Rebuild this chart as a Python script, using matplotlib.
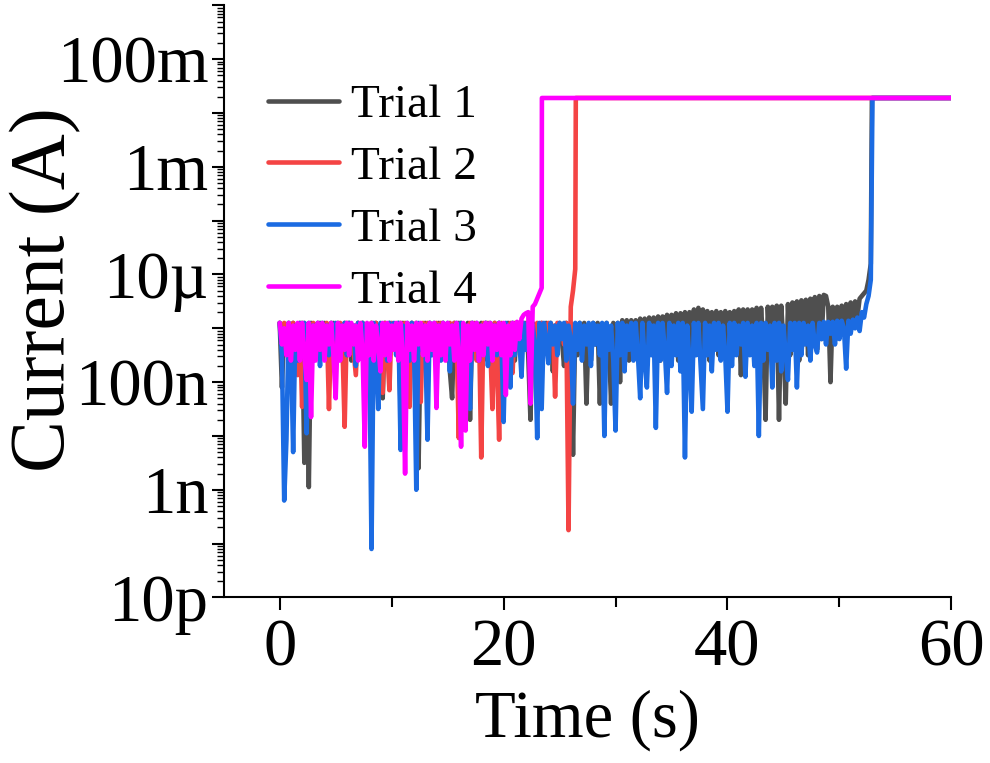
import numpy as np
import matplotlib
matplotlib.use('Agg')
import matplotlib.pyplot as plt
from matplotlib.ticker import LogLocator, FixedLocator, FuncFormatter, NullFormatter

plt.rcParams['font.family'] = ['Liberation Serif', 'DejaVu Serif']

# ---------------- data (log10 of current in A, sampled every dt seconds) ----------------
series_labels = ['Trial 1', 'Trial 2', 'Trial 3', 'Trial 4']
series_colors = ['#4f4f4f', '#f44444', '#1b6be2', '#ff00ff']
sample_dt = 0.2

trial1_log = [
    -5.9, -7.1, -5.95, -6.3, -5.9, -6.6, -5.9, -6.2, -5.95, -6.4,
    -5.9, -8.5, -6.0, -8.95, -5.9, -6.3, -5.95, -6.5, -5.9, -6.2,
    -5.9, -6.4, -5.95, -6.7, -5.9, -6.2, -5.9, -6.5, -6.0, -5.9,
    -6.3, -5.9, -6.6, -5.95, -6.2, -5.9, -6.4, -5.9, -6.8, -5.95,
    -6.2, -5.9, -6.5, -5.9, -6.3, -5.95, -7.3, -5.9, -6.4, -5.9,
    -6.2, -5.95, -6.3, -5.9, -7.5, -5.9, -6.5, -5.95, -6.2, -5.9,
    -6.4, -5.9, -8.6, -5.95, -6.3, -5.9, -6.6, -5.9, -6.2, -5.95,
    -6.5, -5.9, -6.2, -5.9, -6.4, -5.95, -6.8, -7.3, -5.9, -6.3,
    -5.9, -6.5, -5.95, -6.2, -5.9, -7.7, -5.9, -6.4, -5.95, -6.3,
    -5.9, -6.6, -5.9, -6.2, -5.95, -6.5, -5.9, -6.3, -5.9, -6.7,
    -5.95, -6.2, -5.9, -6.4, -5.9, -6.6, -5.95, -6.3, -5.9, -6.2,
    -5.9, -6.5, -7.7, -5.9, -6.3, -5.95, -6.6, -5.9, -6.2, -5.9,
    -6.4, -5.9, -6.8, -5.95, -6.3, -5.9, -6.2, -6.7, -5.9, -6.4,
    -5.9, -8.35, -5.95, -6.5, -5.9, -6.3, -5.9, -7.4, -5.95, -6.6,
    -5.9, -6.3, -5.9, -7.4, -5.95, -6.5, -5.9, -6.2, -7.4, -5.9,
    -6.5, -5.9, -7.0, -5.85, -6.4, -5.85, -6.6, -5.85, -6.3, -5.85,
    -6.5, -5.82, -6.2, -5.82, -6.7, -5.8, -6.4, -5.8, -6.3, -5.78,
    -6.6, -5.78, -6.3, -5.75, -6.5, -5.75, -6.2, -5.72, -6.6, -5.72,
    -6.3, -5.7, -6.96, -5.7, -6.4, -5.65, -6.2, -5.62, -6.5, -5.65,
    -6.3, -5.68, -6.6, -5.7, -6.2, -5.68, -6.5, -5.7, -6.3, -5.68,
    -6.5, -5.7, -6.2, -5.68, -6.4, -5.65, -6.87, -5.65, -6.3, -5.65,
    -6.4, -5.65, -6.2, -5.62, -6.6, -5.62, -6.3, -7.7, -5.6, -6.4,
    -5.6, -6.2, -5.58, -7.7, -5.58, -6.3, -7.4, -5.55, -6.5, -5.52,
    -6.2, -5.5, -6.6, -5.48, -6.3, -5.47, -6.5, -5.45, -6.2, -5.42,
    -6.4, -5.4, -6.2, -5.38, -5.4, -5.6, -7.0, -5.6, -6.2, -5.6,
    -5.95, -5.58, -6.1, -5.55, -5.9, -5.52, -5.95, -5.5, -5.8, -5.45,
    -5.4, -5.35, -5.3, -5.1, -4.8,
]
trial1_tail_t = [52.9, 60.0]
trial1_tail_I = [0.019, 0.019]

trial2_log = [
    -5.9, -6.2, -5.9, -6.4, -5.95, -6.3, -5.9, -6.2, -6.87, -5.9,
    -7.46, -5.9, -6.3, -5.95, -6.2, -5.9, -6.5, -5.9, -6.3, -5.95,
    -6.2, -5.9, -7.5, -5.9, -6.4, -5.95, -6.2, -5.9, -6.3, -7.83,
    -5.9, -6.2, -5.95, -6.4, -6.87, -5.9, -6.3, -5.9, -6.2, -5.95,
    -6.5, -5.9, -6.2, -5.9, -6.3, -5.95, -7.2, -5.9, -6.4, -7.15,
    -5.9, -6.3, -5.95, -6.2, -5.9, -6.5, -5.9, -6.2, -7.46, -5.9,
    -6.3, -5.95, -6.2, -7.37, -5.9, -6.4, -5.9, -6.2, -5.95, -6.5,
    -5.9, -6.3, -5.9, -6.2, -5.95, -6.6, -5.9, -6.3, -5.9, -6.2,
    -8.04, -5.9, -6.4, -5.95, -6.8, -5.9, -6.3, -5.9, -6.6, -5.95,
    -8.4, -5.9, -6.5, -5.9, -6.3, -7.5, -5.9, -6.6, -8.07, -5.9,
    -6.3, -5.95, -6.5, -5.9, -6.83, -5.9, -6.2, -5.95, -6.4, -5.9,
    -6.2, -5.9, -6.5, -5.95, -6.2, -5.9, -6.4, -5.9, -6.2, -6.35,
    -5.9, -6.3, -5.95, -7.27, -5.9, -6.2, -5.95, -6.3, -5.9, -9.75,
    -5.6, -5.3, -4.9,
]
trial2_tail_t = [26.45, 60.0]
trial2_tail_I = [0.019, 0.019]

trial3_log = [
    -5.9, -6.5, -9.2, -8.07, -5.9, -6.3, -8.3, -5.95, -6.6, -5.9,
    -6.2, -5.9, -7.95, -5.9, -6.5, -5.95, -6.3, -5.9, -6.7, -5.9,
    -6.3, -5.95, -6.5, -5.9, -6.2, -5.9, -6.6, -5.95, -6.3, -5.9,
    -6.5, -5.9, -6.2, -5.95, -6.7, -5.9, -6.3, -5.9, -6.5, -5.95,
    -6.2, -10.1, -5.9, -6.4, -7.5, -5.9, -6.3, -5.95, -6.6, -5.9,
    -6.2, -5.9, -6.5, -5.9, -8.26, -5.95, -6.3, -5.9, -6.6, -5.9,
    -6.3, -9.0, -5.9, -6.4, -5.95, -6.2, -8.07, -5.9, -6.5, -5.9,
    -6.3, -5.95, -6.6, -5.9, -6.2, -5.9, -6.8, -5.95, -6.3, -5.9,
    -6.5, -5.9, -6.2, -5.95, -6.4, -7.5, -5.9, -6.3, -5.9, -6.6,
    -5.95, -6.2, -5.9, -6.7, -5.9, -6.3, -5.95, -6.5, -5.9, -6.2,
    -7.74, -5.9, -6.3, -7.1, -5.9, -6.5, -5.95, -6.2, -6.9, -5.9,
    -6.4, -5.9, -6.6, -5.95, -6.3, -8.04, -5.9, -7.5, -5.9, -6.2,
    -6.65, -5.9, -6.3, -5.95, -6.5, -5.9, -6.2, -5.9, -6.6, -5.95,
    -6.2, -7.4, -5.9, -6.4, -5.9, -6.6, -5.95, -6.3, -5.9, -6.7,
    -5.9, -6.3, -5.95, -6.5, -5.9, -8.0, -5.9, -6.4, -5.95, -6.6,
    -7.9, -5.9, -6.5, -5.9, -6.8, -5.95, -6.4, -5.9, -6.6, -5.9,
    -6.5, -7.3, -5.9, -6.6, -7.1, -5.9, -6.5, -5.95, -7.85, -5.9,
    -6.6, -5.9, -6.4, -7.2, -5.9, -6.7, -5.95, -6.5, -5.9, -6.8,
    -5.9, -8.4, -5.95, -6.6, -7.55, -5.9, -6.5, -5.9, -6.7, -7.5,
    -5.9, -6.5, -5.95, -6.8, -5.9, -6.4, -5.9, -6.6, -5.95, -6.5,
    -7.55, -5.9, -6.7, -5.9, -6.5, -5.95, -6.3, -5.9, -6.9, -5.9,
    -6.5, -5.95, -6.7, -5.9, -8.0, -5.9, -6.6, -5.9, -6.4, -5.95,
    -7.1, -5.9, -6.6, -5.9, -6.8, -5.95, -6.5, -6.96, -5.9, -6.4,
    -5.9, -7.1, -5.9, -6.5, -5.9, -6.3, -5.95, -6.6, -5.9, -6.3,
    -6.45, -5.9, -6.2, -5.88, -6.3, -5.88, -6.1, -5.88, -6.3, -5.86,
    -6.2, -5.86, -6.0, -6.75, -5.86, -6.1, -5.84, -6.0, -5.8, -6.05,
    -5.7, -5.8, -5.55, -5.4, -5.1,
]
trial3_tail_t = [52.95, 60.0]
trial3_tail_I = [0.019, 0.019]

trial4_log = [
    -5.9, -6.3, -6.0, -6.5, -5.9, -6.6, -5.95, -6.4, -5.9, -6.6,
    -5.9, -6.5, -6.96, -5.9, -7.65, -5.95, -6.6, -5.9, -6.4, -5.9,
    -6.6, -5.95, -6.3, -5.9, -6.5, -7.3, -5.9, -6.6, -5.95, -6.4,
    -5.9, -6.5, -5.9, -6.3, -5.95, -6.6, -5.9, -6.4, -8.2, -5.9,
    -6.5, -5.9, -6.6, -5.95, -6.3, -6.8, -5.9, -6.5, -5.9, -6.6,
    -5.95, -6.4, -5.9, -6.6, -5.9, -6.5, -8.7, -5.9, -6.4, -5.95,
    -6.6, -5.9, -6.3, -5.9, -6.5, -5.95, -6.6, -5.9, -6.4, -5.9,
    -7.48, -5.95, -6.5, -5.9, -6.6, -5.9, -6.3, -5.95, -6.6, -5.9,
    -6.5, -8.2, -5.9, -7.9, -5.95, -6.6, -5.9, -6.4, -5.9, -6.6,
    -5.95, -6.5, -5.9, -6.3, -5.9, -6.6, -5.95, -6.4, -5.9, -6.5,
    -5.9, -7.24, -5.95, -6.5, -5.9, -6.4, -5.88, -6.2, -5.82, -5.75,
    -5.72, -5.7, -7.4, -5.6, -5.55, -5.45, -5.35, -5.25,
]
trial4_tail_t = [23.42, 60.0]
trial4_tail_I = [0.019, 0.019]

y_tick_values = [1e-11, 1e-9, 1e-7, 1e-5, 1e-3, 1e-1]
y_tick_labels = ['10p', '1n', '100n', '10\u00b5', '1m', '100m']
x_tick_values = [0, 20, 40, 60]

# ---------------- figure ----------------
fig = plt.figure(figsize=(9.9, 7.63), dpi=100)
ax = fig.add_axes([0.226, 0.217, 0.735, 0.776])

logs = [trial1_log, trial2_log, trial3_log, trial4_log]
tails_t = [trial1_tail_t, trial2_tail_t, trial3_tail_t, trial4_tail_t]
tails_I = [trial1_tail_I, trial2_tail_I, trial3_tail_I, trial4_tail_I]
for lg, tt, ti, lab, col in zip(logs, tails_t, tails_I, series_labels, series_colors):
    t = np.arange(len(lg)) * sample_dt
    cur = 10.0 ** np.array(lg)
    t = np.concatenate([t, tt])
    cur = np.concatenate([cur, ti])
    ax.plot(t, cur, color=col, lw=3.3, label=lab,
            solid_joinstyle='round', solid_capstyle='round')

ax.set_yscale('log')
ax.set_ylim(1e-11, 1)
ax.set_xlim(-5, 60)

label_map = dict(zip(y_tick_values, y_tick_labels))
ax.yaxis.set_major_locator(FixedLocator(10.0 ** np.arange(-11, 1)))
def yfmt(v, pos):
    for k, s in label_map.items():
        if abs(np.log10(v) - np.log10(k)) < 1e-6:
            return s
    return ''
ax.yaxis.set_major_formatter(FuncFormatter(yfmt))
ax.yaxis.set_minor_locator(LogLocator(base=10, subs=np.arange(2, 10), numticks=100))
ax.yaxis.set_minor_formatter(NullFormatter())

ax.set_xticks(x_tick_values)
ax.set_xticks([10, 30, 50], minor=True)

for s in ['top', 'right']:
    ax.spines[s].set_visible(False)
for s in ['left', 'bottom']:
    ax.spines[s].set_linewidth(1.5)

ax.tick_params(axis='both', which='major', direction='out', width=1.5, labelsize=48)
ax.tick_params(axis='y', which='major', length=9, pad=2)
ax.tick_params(axis='y', which='minor', direction='out', length=5, width=1.0)
ax.tick_params(axis='x', which='major', length=9, pad=6)
ax.tick_params(axis='x', which='minor', direction='out', length=7, width=1.5)

ax.set_xlabel('Time (s)', fontsize=48, labelpad=7)
ax.set_ylabel('Current (A)', fontsize=56)
ax.yaxis.set_label_coords(-0.196, 0.52)

leg = ax.legend(loc='upper left', bbox_to_anchor=(268/990, 1 - 84/763),
                bbox_transform=fig.transFigure, frameon=False, fontsize=34,
                handlelength=1.5, handletextpad=0.25, labelspacing=0.4,
                borderpad=0, borderaxespad=0)
for h in leg.get_lines():
    h.set_linewidth(3.3)

fig.savefig('out.png', dpi=100)
